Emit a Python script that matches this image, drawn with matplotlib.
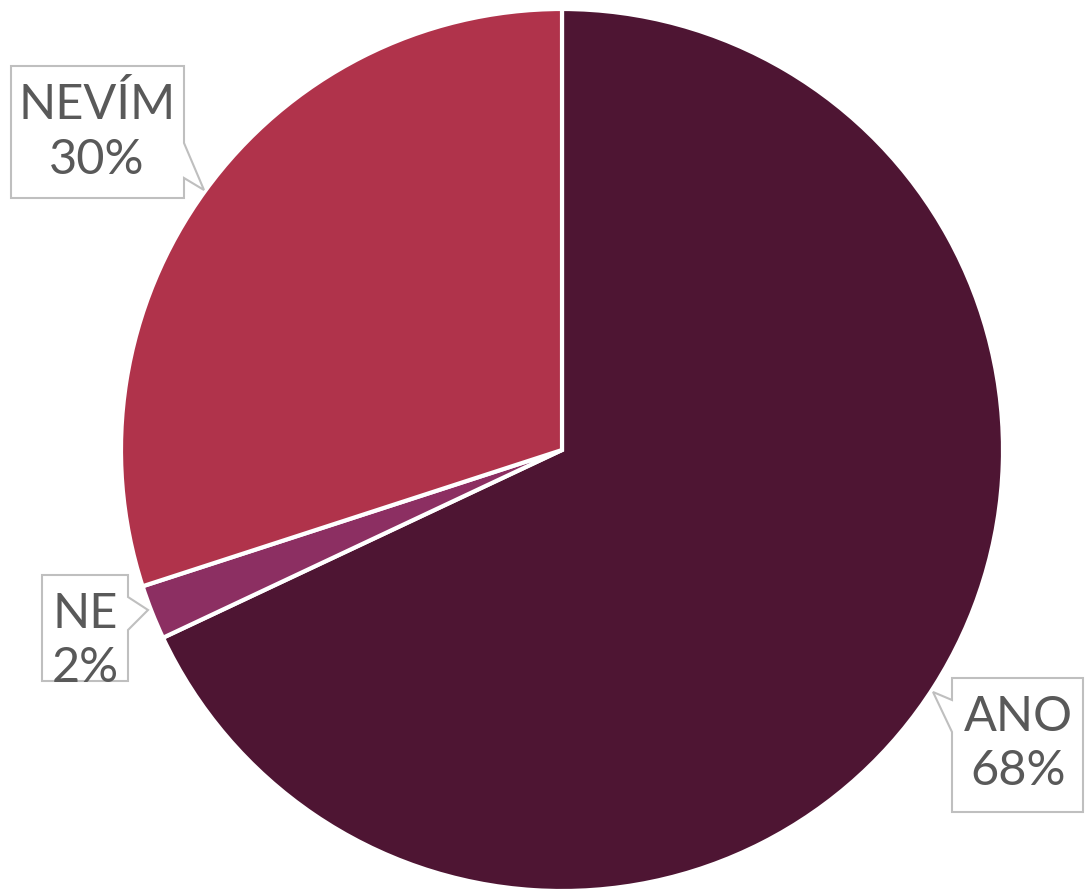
import matplotlib.pyplot as plt
from matplotlib.patches import Polygon

# data
kategorie = ["ANO", "NE", "NEVÍM"]
hodnoty = [68, 2, 30]
barvy = ["#4E1533", "#8C2F62", "#B0334B"]

W, H = 1085, 889

fig = plt.figure(figsize=(W / 100, H / 100), dpi=100)
ax = fig.add_axes([0, 0, 1, 1])
ax.set_xlim(0, W)
ax.set_ylim(0, H)
ax.set_aspect("equal")
ax.axis("off")

ax.pie(hodnoty, colors=barvy, startangle=90, counterclock=False,
       center=(562, H - 450), radius=441,
       wedgeprops={"edgecolor": "white", "linewidth": 3})
ax.set_xlim(0, W)
ax.set_ylim(0, H)

# callout boxes (pixel coords, y from top)
callouts = {
    "NEVÍM": [(11, 66), (184, 66), (184, 143), (204, 190), (184, 178), (184, 198), (11, 198)],
    "NE": [(42, 575), (128, 575), (128, 597), (148, 610), (128, 630), (128, 681), (42, 681)],
    "ANO": [(952, 678), (1083, 678), (1083, 812), (952, 812), (952, 732), (933, 692), (952, 700)],
}
pozice = {"NEVÍM": (97, 132), "NE": (85, 641), "ANO": (1018, 744)}

for kat, hod in zip(kategorie, hodnoty):
    pts = [(x, H - y) for x, y in callouts[kat]]
    ax.add_patch(Polygon(pts, closed=True, facecolor="white", edgecolor="#BFBFBF", linewidth=1.5, zorder=3))
    x, y = pozice[kat]
    ax.text(x, H - y, f"{kat}\n{hod}%", ha="center", va="center", fontsize=35,
            family="Lato", color="#595959", linespacing=1.3, zorder=4)

fig.savefig("out.png", dpi=100)
